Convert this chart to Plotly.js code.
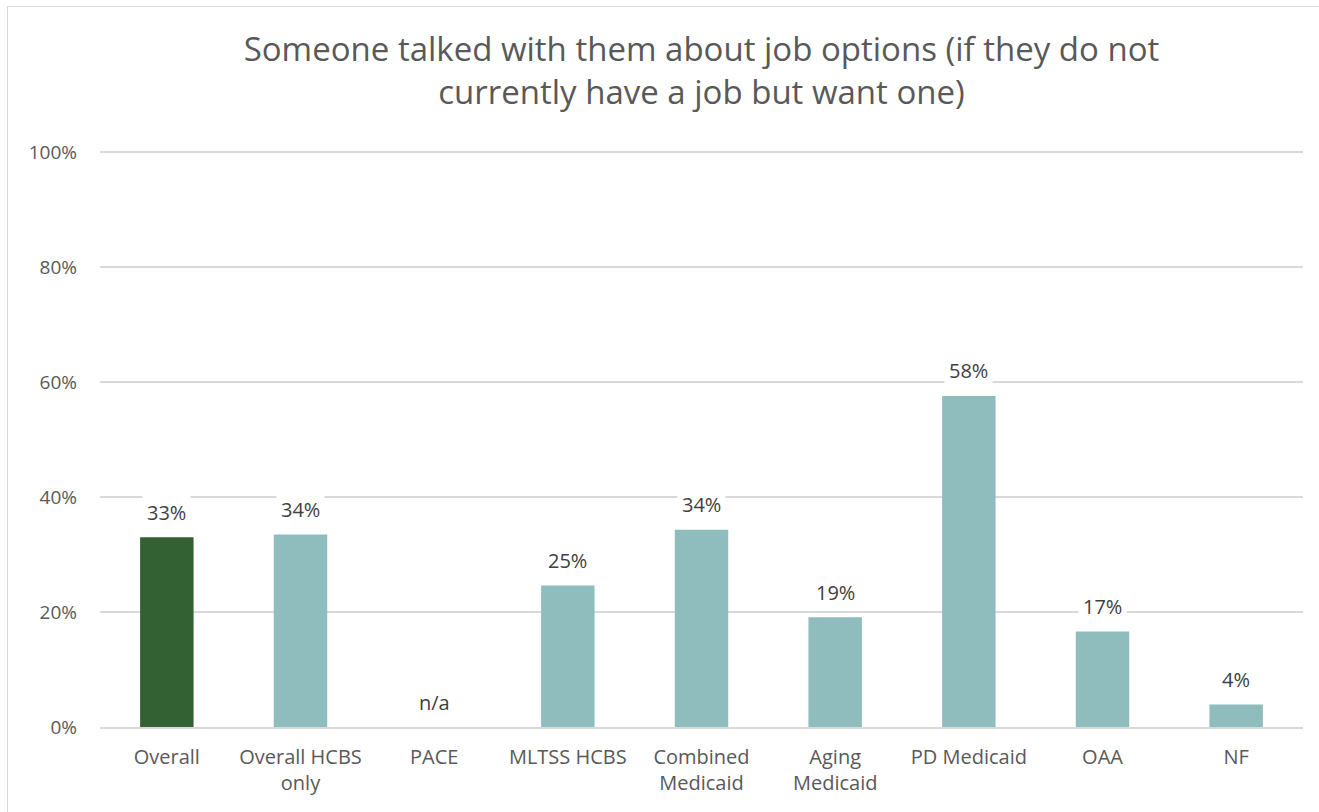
<!DOCTYPE html>
<html>
<head>
<meta charset="utf-8">
<script src="https://cdn.plot.ly/plotly-3.0.1.min.js"></script>
<style>
  html, body { margin: 0; padding: 0; background: #fff; }
  #wrap { position: relative; width: 1319px; height: 812px; }
  #chart { width: 1319px; height: 812px; }
  #frame { position: absolute; left: 7px; top: 6px; right: -2px; bottom: -2px;
           border-left: 1.5px solid #d9d9d9; border-top: 1.5px solid #d9d9d9; pointer-events: none; }
</style>
</head>
<body>
<div id="wrap">
  <div id="chart"></div>
  <div id="frame"></div>
</div>
<script>
const categories = ["Overall", "Overall HCBS only", "PACE", "MLTSS HCBS", "Combined Medicaid",
                    "Aging Medicaid", "PD Medicaid", "OAA", "NF"];
const tickLabels = ["Overall", "Overall HCBS<br>only", "PACE", "MLTSS HCBS", "Combined<br>Medicaid",
                    "Aging<br>Medicaid", "PD Medicaid", "OAA", "NF"];
const values = [0.33, 0.335, null, 0.246, 0.343, 0.191, 0.576, 0.166, 0.039];
const valueLabels = ["33%", "34%", "n/a", "25%", "34%", "19%", "58%", "17%", "4%"];
const barColors = ["#336133", "#8fbdbd", "#8fbdbd", "#8fbdbd", "#8fbdbd",
                   "#8fbdbd", "#8fbdbd", "#8fbdbd", "#8fbdbd"];
const titleText = "Someone talked with them about job options (if they do not<br>currently have a job but want one)";

const FONT = "Open Sans, Liberation Sans, sans-serif";

const annotations = categories.map((c, i) => ({
  x: c, y: values[i] === null ? 0 : values[i],
  xref: "x", yref: "y",
  text: valueLabels[i],
  showarrow: false,
  yanchor: "middle",
  yshift: 25,
  bgcolor: "#ffffff",
  borderpad: 4,
  font: { family: FONT, size: 20, color: "#404040" }
}));

const trace = {
  type: "bar",
  x: categories,
  y: values,
  marker: { color: barColors, line: { width: 0 } },
  hoverinfo: "none"
};

const layout = {
  width: 1319, height: 812,
  margin: { l: 100, r: 16, t: 151, b: 85 },
  paper_bgcolor: "#ffffff",
  plot_bgcolor: "#ffffff",
  showlegend: false,
  bargap: 0.6,
  title: {
    text: titleText,
    font: { family: FONT, size: 33, color: "#595959" },
    x: 0.5, xanchor: "center",
    xref: "paper",
    yref: "container",
    y: 1 - 61 / 812, yanchor: "top"
  },
  xaxis: {
    type: "category",
    tickmode: "array",
    tickvals: categories,
    ticktext: tickLabels,
    showline: true, linecolor: "#d9d9d9", linewidth: 1.5,
    ticks: "",
    ticklabelstandoff: 11,
    showgrid: false,
    tickfont: { family: FONT, size: 20, color: "#595959" },
    fixedrange: true
  },
  yaxis: {
    range: [0, 1.002],
    tickvals: [0, 0.2, 0.4, 0.6, 0.8, 1.0],
    tickformat: ".0%",
    showgrid: true, gridcolor: "#d9d9d9", gridwidth: 1.5,
    zeroline: false,
    ticks: "",
    ticklabelstandoff: 22,
    tickfont: { family: FONT, size: 19, color: "#595959" },
    fixedrange: true
  },
  annotations: annotations
};

Plotly.newPlot("chart", [trace], layout, { displayModeBar: false, staticPlot: true });
</script>
</body>
</html>
